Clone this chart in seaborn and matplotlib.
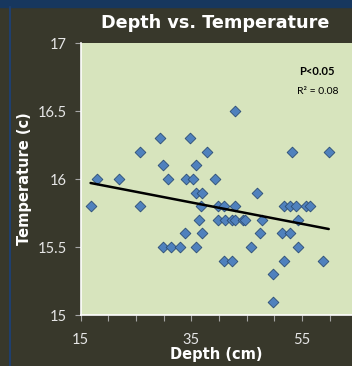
import numpy as np
import pandas as pd
import seaborn as sns
from matplotlib import pyplot as plt
from matplotlib.ticker import MultipleLocator, FixedLocator

# Depth (cm) and temperature (c)
depth = [42.8,
         29.3, 34.8,
         25.8, 37.8, 53.2, 59.8,
         29.8, 35.8,
         17.9, 21.9, 30.8, 34.1, 35.3, 39.3,
         35.8, 36.9, 46.9,
         16.8, 25.8, 36.7, 39.8, 40.9, 42.8, 51.7, 52.8, 53.9, 55.7, 56.4,
         36.3, 39.8, 41.0, 42.4, 42.9, 44.3, 44.7, 47.8, 54.3,
         33.8, 36.9, 47.3, 51.3, 52.8,
         29.8, 31.4, 32.9, 35.8, 45.8, 54.3,
         40.8, 42.4, 51.8, 58.8,
         49.8,
         49.8]
temperature = [16.5,
               16.3, 16.3,
               16.2, 16.2, 16.2, 16.2,
               16.1, 16.1,
               16.0, 16.0, 16.0, 16.0, 16.0, 16.0,
               15.9, 15.9, 15.9,
               15.8, 15.8, 15.8, 15.8, 15.8, 15.8, 15.8, 15.8, 15.8, 15.8, 15.8,
               15.7, 15.7, 15.7, 15.7, 15.7, 15.7, 15.7, 15.7, 15.7,
               15.6, 15.6, 15.6, 15.6, 15.6,
               15.5, 15.5, 15.5, 15.5, 15.5, 15.5,
               15.4, 15.4, 15.4, 15.4,
               15.3,
               15.1]
xTickValues = [15, 35, 55]
yTickValues = [15, 15.5, 16, 16.5, 17]

data = pd.DataFrame({'depth': depth, 'temperature': temperature})

sns.set_theme(style='ticks')
plt.rcParams['font.family'] = ['Lato', 'DejaVu Sans']

bgColor = '#38382b'
fig = plt.figure(figsize=(3.52, 3.66), dpi=100, facecolor=bgColor)
ax = fig.add_axes([0.229, 0.139, 0.771, 0.7435])
ax.set_facecolor('#d7e4bd')

# Blue band at top and thin blue line on the left
fig.patches.append(plt.Rectangle((0, 0.981), 1, 0.019, transform=fig.transFigure,
                                 color='#17375e', zorder=0))
fig.lines.append(plt.Line2D([0.029, 0.029], [0, 0.981], transform=fig.transFigure,
                            color='#1f3f6e', lw=1.5))

sns.regplot(data=data, x='depth', y='temperature', ax=ax, ci=None, marker='D',
            scatter_kws={'s': 30, 'color': '#4f81bd', 'edgecolor': '#2c4d75',
                         'linewidths': 0.6, 'alpha': 1},
            line_kws={'color': 'black', 'lw': 1.8})

ax.set_xlim(15, 64)
ax.set_ylim(15, 17)
ax.xaxis.set_major_locator(FixedLocator(xTickValues))
ax.xaxis.set_minor_locator(MultipleLocator(5))
ax.yaxis.set_major_locator(FixedLocator(yTickValues))
ax.set_yticklabels([f'{v:g}' for v in yTickValues])

for side in ['top', 'right']:
    ax.spines[side].set_visible(False)
for side in ['left', 'bottom']:
    ax.spines[side].set_color('white')
    ax.spines[side].set_linewidth(1.2)

ax.tick_params(axis='both', which='both', colors='#a6a6a6', length=4, width=0.8,
               labelcolor='#e6e6e6', labelsize=10.5, pad=6)
ax.tick_params(axis='x', pad=9)

boldFont = ['DejaVu Sans']
ax.set_xlabel('Depth (cm)', color='white', fontsize=10.5, fontweight='bold',
              labelpad=0, family=boldFont)
ax.set_ylabel('Temperature (c)', color='white', fontsize=10.5, fontweight='bold',
              labelpad=4, family=boldFont)
fig.text(0.612, 0.937, 'Depth vs. Temperature', color='white', fontsize=12.7,
         fontweight='bold', ha='center', va='center', family=boldFont)

ax.text(0.935, 0.895, 'P<0.05', transform=ax.transAxes, fontsize=8,
        fontweight='bold', color='black', ha='right', va='center')
ax.text(0.95, 0.82, 'R² = 0.08', transform=ax.transAxes, fontsize=7.5,
        color='black', ha='right', va='center')

plt.savefig('out.png', dpi=100, facecolor=bgColor)
